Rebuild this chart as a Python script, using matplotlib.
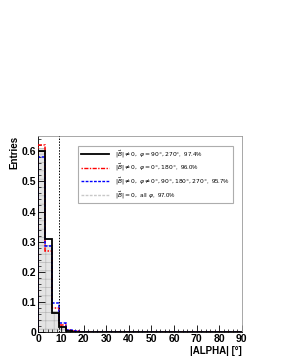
import numpy as np
import matplotlib.pyplot as plt
from matplotlib.ticker import MultipleLocator
from matplotlib.lines import Line2D

plt.rcParams['font.family'] = ['Liberation Sans', 'DejaVu Sans']
plt.rcParams['mathtext.fontset'] = 'dejavusans'
plt.rcParams['hatch.linewidth'] = 0.5

# 3 degree bins from 0 to 90
edges = np.arange(0, 93, 3)

# fraction of entries per bin (only the first bins are non-zero)
phi_90_270 = [0.600, 0.310, 0.065, 0.018, 0.004, 0.002, 0.001]
phi_0_180 = [0.620, 0.270, 0.080, 0.025, 0.006, 0.004, 0.002]
phi_other = [0.580, 0.285, 0.095, 0.030, 0.007, 0.004, 0.002]
b_zero = [0.610, 0.290, 0.070, 0.020, 0.005, 0.003, 0.001]

labels = [r'$|\vec{B}| \neq 0,\ \varphi = 90°, 270°$,  97.4%',
          r'$|\vec{B}| \neq 0,\ \varphi = 0°, 180°$,  96.0%',
          r'$|\vec{B}| \neq 0,\ \varphi \neq 0°, 90°, 180°, 270°$,  95.7%',
          r'$|\vec{B}| = 0,\ \mathrm{all}\ \varphi$,  97.0%']

cut = 9


def pad(vals):
    v = np.zeros(len(edges) - 1)
    v[:len(vals)] = vals
    return v


fig = plt.figure(figsize=(2.81, 3.63), dpi=100)
ax = fig.add_axes([0.137, 0.085, 0.723, 0.54])

# filled reference histogram
ax.stairs(pad(b_zero), edges, fill=True, facecolor='#e4e4e4', edgecolor='#b8b8b8',
          hatch='++', linewidth=0.6, zorder=1)
ax.stairs(pad(phi_90_270), edges, color='black', linewidth=1.3, zorder=4)
ax.stairs(pad(phi_0_180), edges, color='red', linewidth=1.1, linestyle=(0, (1, 1, 3, 1)), zorder=3)
ax.stairs(pad(phi_other), edges, color='blue', linewidth=1.1, linestyle=(0, (2, 1)), zorder=3)

ax.axvline(cut, color='black', linestyle=(0, (1.5, 1.5)), linewidth=0.7, zorder=5)

ax.set_xlim(0, 90)
ax.set_ylim(0, 0.65)
ax.xaxis.set_major_locator(MultipleLocator(10))
ax.xaxis.set_minor_locator(MultipleLocator(2))
ax.yaxis.set_minor_locator(MultipleLocator(0.02))
ax.set_yticks(np.arange(0, 0.61, 0.1))
ax.set_yticklabels(['0', '0.1', '0.2', '0.3', '0.4', '0.5', '0.6'])
ax.tick_params(which='both', direction='in', top=False, right=False, labelsize=7.5, pad=1.5)
ax.tick_params(which='major', length=5, width=0.6)
ax.tick_params(which='minor', length=2.5, width=0.5)
for lab in ax.get_xticklabels() + ax.get_yticklabels():
    lab.set_fontweight('bold')
for s in ax.spines.values():
    s.set_linewidth(0.6)
for s in ['top', 'right']:
    ax.spines[s].set_color('#999999')

ax.set_xlabel('|ALPHA| [°]', fontsize=7, fontweight='bold', loc='right', labelpad=1)
ax.set_ylabel('Entries', fontsize=7, fontweight='bold', loc='top', labelpad=2)

hs = [Line2D([], [], color='black', lw=1.3),
      Line2D([], [], color='red', lw=1.0, linestyle=(0, (1, 1, 3, 1))),
      Line2D([], [], color='blue', lw=1.0, linestyle=(0, (2, 1))),
      Line2D([], [], color='#c8c8c8', lw=1.0, linestyle=(0, (2, 1)))]
leg = ax.legend(hs, labels, loc='upper left', bbox_to_anchor=(0.195, 0.95),
                fontsize=4.3, frameon=True, fancybox=False, handlelength=4.8,
                labelspacing=0.4, borderpad=0.45, handletextpad=0.9, borderaxespad=0)
leg.get_frame().set_edgecolor('#999999')
leg.get_frame().set_linewidth(0.8)

fig.savefig('out.png', dpi=100)
